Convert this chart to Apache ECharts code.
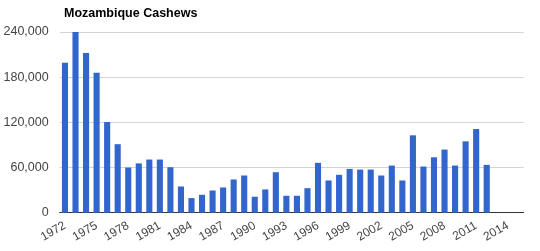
<!DOCTYPE html>
<html>
<head>
<meta charset="utf-8">
<script src="https://cdn.jsdelivr.net/npm/echarts@6/dist/echarts.min.js"></script>
<style>
html,body{margin:0;padding:0;background:#fff;}
#c{width:540px;height:251px;}
</style>
</head>
<body>
<div id="c"></div>
<script>
var title = "Mozambique Cashews";
var years = [1972,1973,1974,1975,1976,1977,1978,1979,1980,1981,1982,1983,1984,1985,1986,1987,1988,1989,1990,1991,1992,1993,1994,1995,1996,1997,1998,1999,2000,2001,2002,2003,2004,2005,2006,2007,2008,2009,2010,2011,2012,2013,2014,2015];
var production = [199000,240000,212000,186000,120500,91000,60000,65500,70600,70600,60400,34800,19400,23800,29500,33500,44100,49400,21200,30900,53800,22500,22500,32600,66200,42800,50300,58200,57300,57300,49400,62600,42800,102800,61300,73600,83800,62600,94800,111100,63500,null,null,null];
var yTicks = [0,60000,120000,180000,240000];

var chart = echarts.init(document.getElementById('c'), null, {renderer:'canvas'});
chart.setOption({
  animation:false,
  title:{text:title,left:59,top:2,textStyle:{fontFamily:'Liberation Sans, Arial, sans-serif',fontSize:12.5,fontWeight:'bold',color:'#000'}},
  grid:{left:59.7,top:32,width:463.9,height:180.7,containLabel:false},
  xAxis:{
    type:'category',
    data:years.map(String),
    boundaryGap:true,
    axisLine:{lineStyle:{color:'#333',width:1}},
    axisTick:{show:false},
    axisLabel:{interval:2,rotate:30,margin:12,fontFamily:'Liberation Sans, Arial, sans-serif',fontSize:12,color:'#444'}
  },
  yAxis:{
    type:'value',
    min:yTicks[0],max:yTicks[yTicks.length-1],interval:60000,
    axisLine:{show:false},axisTick:{show:false},
    splitLine:{lineStyle:{color:'#d4d4d4',width:1}},
    axisLabel:{margin:11,fontFamily:'Liberation Sans, Arial, sans-serif',fontSize:12.5,color:'#444',
      formatter:function(v){return v.toString().replace(/\B(?=(\d{3})+(?!\d))/g, ',');}}
  },
  series:[{type:'bar',data:production,barWidth:'58%',itemStyle:{color:'#3366cc'}}]
});
</script>
</body>
</html>
